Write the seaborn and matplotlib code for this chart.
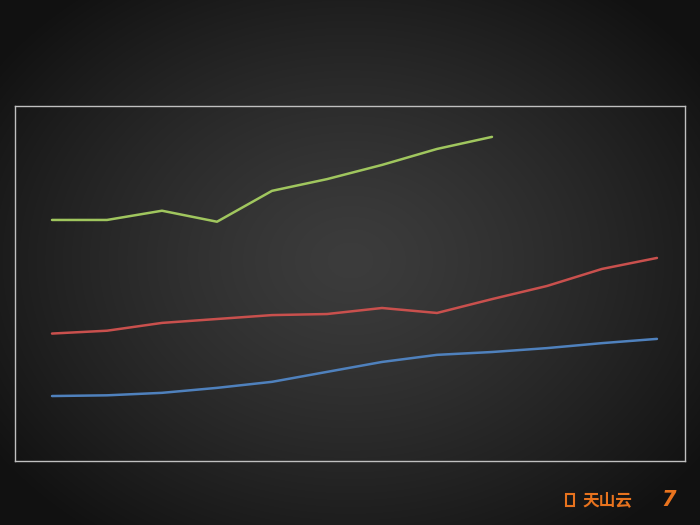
import numpy as np
import pandas as pd
import matplotlib
matplotlib.use("Agg")
import matplotlib.pyplot as plt
import seaborn as sns

# ---- data ----
periods = list(range(12))
green_vals = [67.9, 67.9, 70.5, 67.4, 76.1, 79.4, 83.4, 87.9, 91.3]
red_vals = [35.9, 36.7, 38.9, 40.0, 41.1, 41.4, 43.1, 41.7, 45.6, 49.3, 54.1, 57.2]
blue_vals = [18.3, 18.5, 19.2, 20.6, 22.3, 25.1, 27.9, 29.9, 30.7, 31.8, 33.2, 34.4]
series_names = ["green", "red", "blue"]
series_colors = {"green": "#A0C65E", "red": "#C9504D", "blue": "#4F81BD"}

rows = []
for name, vals in zip(series_names, [green_vals, red_vals, blue_vals]):
    for p, v in zip(periods, vals):
        rows.append({"period": p, "value": v, "series": name})
df = pd.DataFrame(rows)

sns.set_theme(style="dark")
plt.rcParams['font.family'] = ['Noto Sans CJK SC', 'DejaVu Sans']

fig = plt.figure(figsize=(7, 5.25), dpi=100)

# background radial gradient
bg = fig.add_axes([0, 0, 1, 1])
H, W = 525, 700
yy, xx = np.mgrid[0:H, 0:W]
cx, cy = 350, 260
d = np.sqrt(((xx - cx) / 420.0) ** 2 + ((yy - cy) / 330.0) ** 2)
lum = 0.235 - 0.16 * np.clip(d, 0, 1.15) ** 1.3
lum = np.clip(lum, 0.07, 0.25)
img = np.dstack([lum, lum, lum])
bg.imshow(img, aspect="auto", extent=[0, W, H, 0], interpolation="bilinear")
bg.set_axis_off()

ax = fig.add_axes([15 / 700, 64 / 525, 670 / 700, 355 / 525])
ax.patch.set_alpha(0)
sns.lineplot(data=df, x="period", y="value", hue="series", palette=series_colors,
             linewidth=1.8, legend=False, ax=ax)
ax.set_xlim(-0.673, 11.51)
ax.set_ylim(0, 100)
ax.set_xticks([])
ax.set_yticks([])
ax.set_xlabel("")
ax.set_ylabel("")
ax.grid(False)
for s in ax.spines.values():
    s.set_visible(True)
    s.set_color("#c0c0c0")
    s.set_linewidth(1.0)

# logo and page number
from matplotlib.patches import Rectangle
fig.patches.append(Rectangle((566 / 700, (525 - 506) / 525), 8 / 700, 12 / 525,
                             transform=fig.transFigure, fill=False,
                             edgecolor="#E8731E", linewidth=1.5))
fig.text(582 / 700, (525 - 500) / 525, "天山云", color="#E8731E", fontsize=12,
         fontweight="bold", va="center", ha="left")
fig.text(661 / 700, (525 - 500) / 525, "7", color="#E8731E", fontsize=15,
         fontweight="bold", fontstyle="italic", va="center", ha="left",
         family=["DejaVu Sans"])

fig.savefig("out.png", dpi=100)
